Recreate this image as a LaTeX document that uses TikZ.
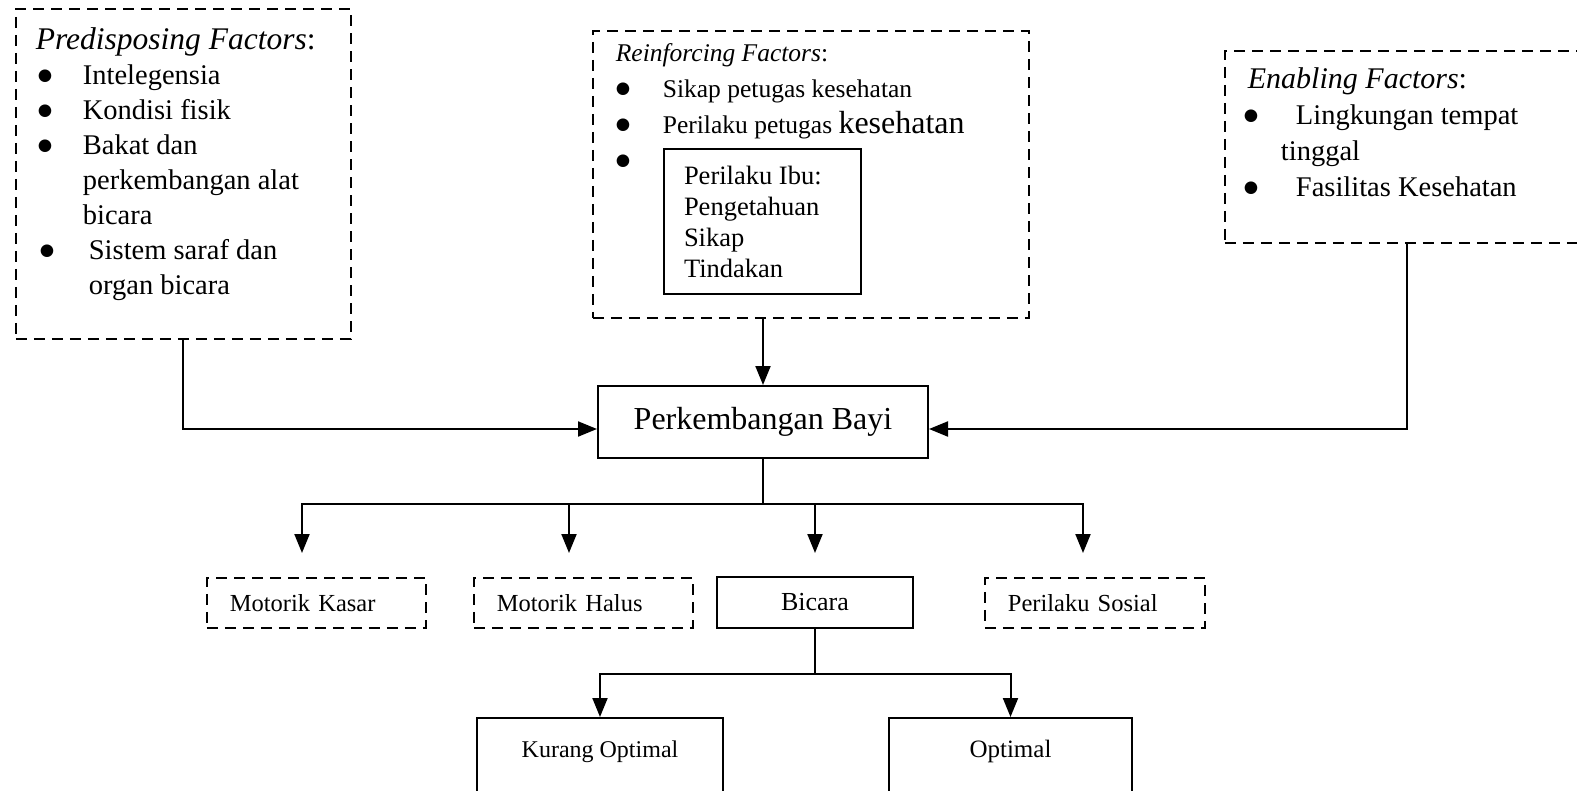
\documentclass[tikz,border=0pt]{standalone}
\usepackage{fontspec}
\setmainfont{Liberation Serif}
\newfontfamily\dejavu{DejaVu Sans}
\usetikzlibrary{arrows.meta}
\newcommand{\bitem}[3]{\par\noindent\hangindent=#2\hangafter=1\makebox[#2][l]{\hspace*{#1}\raisebox{4.5pt}{\dejavu\fontsize{16.5}{16.5}\selectfont ●}}#3}

\begin{document}
\begin{tikzpicture}[x=1pt,y=-1pt,->,>={Triangle[length=19pt,width=15pt]},line width=2pt,
  dash box/.style={draw,dash pattern=on 11pt off 7pt,line width=1.8pt,anchor=north west,inner sep=0pt},
  solid box/.style={draw,line width=2pt,anchor=north west,inner sep=0pt},
  small box/.style={minimum height=50pt,inner xsep=23pt,align=left,font=\fontsize{24.5}{28}\selectfont}]
  \useasboundingbox (0,0) rectangle (1577,790);
  \clip (0,0) rectangle (1577,790);
  \node[dash box] (pre) at (15,8) {\parbox[t][330pt][t]{335pt}{\raggedright\fontsize{28.5}{35}\selectfont\vspace*{19pt}%
    \noindent\hspace*{20pt}{\fontsize{31.5}{35}\selectfont\textit{Predisposing Factors}:}
    \bitem{22pt}{67pt}{Intelegensia}
    \bitem{22pt}{67pt}{Kondisi fisik}
    \bitem{22pt}{67pt}{Bakat dan\newline perkembangan alat\newline bicara}
    \bitem{24pt}{73pt}{Sistem saraf dan\newline organ bicara}\par}};
  \node[dash box] (rein) at (592,30) {\parbox[t][287pt][t]{436pt}{\raggedright\fontsize{25.5}{36}\selectfont\vspace*{13pt}%
    \noindent\hspace*{23pt}\textit{Reinforcing Factors}:
    \bitem{23pt}{70pt}{Sikap petugas kesehatan}
    \bitem{23pt}{70pt}{Perilaku petugas {\fontsize{32}{36}\selectfont kesehatan}}
    \bitem{23pt}{70pt}{}\par}};
  \node[solid box] (ibu) at (663,148) {\parbox[t][145pt][t]{197pt}{\raggedright\fontsize{26.5}{31}\selectfont\vspace*{17pt}%
    \leftskip=20pt\noindent Perilaku Ibu:\newline Pengetahuan\newline Sikap\newline Tindakan\par}};
  \node[dash box] (ena) at (1224,50) {\parbox[t][192pt][t]{364pt}{\raggedright\fontsize{28.5}{36}\selectfont\vspace*{17pt}%
    \noindent\hspace*{23pt}{\fontsize{30}{36}\selectfont\textit{Enabling Factors}:}
    \bitem{19pt}{71pt}{Lingkungan tempat\newline\hspace*{-15pt}tinggal}
    \bitem{19pt}{71pt}{Fasilitas Kesehatan}\par}};
  \node[solid box,minimum width=330pt,minimum height=72pt,font=\fontsize{32}{36}\selectfont] (bayi) at (597,385) {Perkembangan Bayi};
  \node[dash box,small box,text width=173pt] (kasar) at (206,577) {Motorik Kasar};
  \node[dash box,small box,text width=173pt] (halus) at (473,577) {Motorik Halus};
  \node[solid box,minimum width=196pt,minimum height=51pt,font=\fontsize{26}{30}\selectfont] (bicara) at (716,576) {Bicara};
  \node[dash box,small box,text width=174pt] (sosial) at (984,577) {Perilaku Sosial};
  \node[solid box,minimum width=246pt,text height=39pt,text depth=60pt,font=\fontsize{24}{30}\selectfont] (kurang) at (476,717) {Kurang Optimal};
  \node[solid box,minimum width=243pt,text height=39pt,text depth=60pt,font=\fontsize{25}{30}\selectfont] (optimal) at (888,717) {Optimal};
  \coordinate (a1) at (302,553);
  \coordinate (a2) at (569,553);
  \coordinate (a3) at (815,553);
  \coordinate (a4) at (1083,553);
  \draw (pre.south) |- ([yshift=-7pt]bayi.west);
  \draw (ena.south) |- ([yshift=-7pt]bayi.east);
  \draw (rein.south -| bayi.north) -- (bayi.north);
  \draw[-] (bayi.south) -- ++(0,45) coordinate (hub);
  \draw (hub) -| (a1);
  \draw (hub) -| (a2);
  \draw (hub) -| (a3);
  \draw (hub) -| (a4);
  \draw[-] (bicara.south) -- ++(0,45) coordinate (hub2);
  \draw (hub2) -| (kurang.north);
  \draw (hub2) -| (optimal.north);
\end{tikzpicture}
\end{document}
